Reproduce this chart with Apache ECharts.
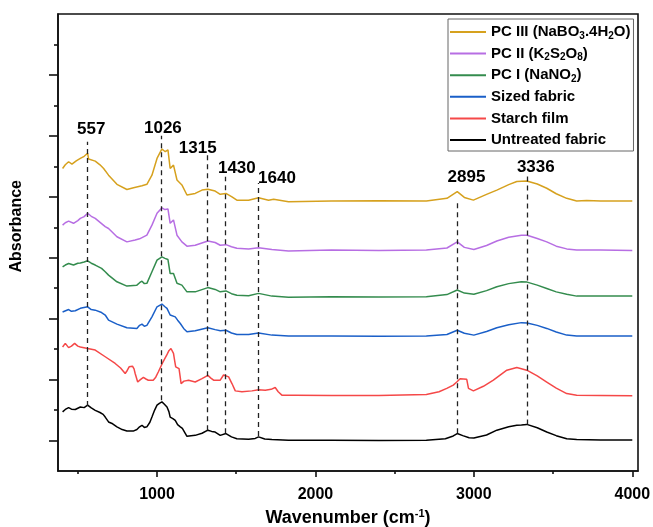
<!DOCTYPE html>
<html>
<head>
<meta charset="utf-8">
<script src="https://cdn.jsdelivr.net/npm/echarts@6/dist/echarts.min.js"></script>
<style>
    body { margin: 0; background: #ffffff; }
    #chart { width: 653px; height: 527px; }
</style>
</head>
<body>
<div id="chart"></div>
<script>
    // FTIR spectra, [wavenumber, absorbance offset]
    var untreated = [[404,1.94],[421,2.02],[442,2.08],[460,2.03],[484,2.02],[516,2.10],[540,2.08],[562,2.16],[585,2.07],[610,1.99],[640,1.92],[660,1.86],[673,1.77],[694,1.61],[720,1.55],[747,1.45],[780,1.36],[810,1.31],[850,1.31],[873,1.36],[890,1.45],[905,1.50],[920,1.43],[936,1.45],[955,1.60],[968,1.77],[985,2.00],[1000,2.16],[1015,2.22],[1031,2.27],[1045,2.20],[1063,2.10],[1075,1.95],[1083,1.77],[1100,1.72],[1115,1.66],[1130,1.52],[1147,1.45],[1160,1.40],[1168,1.34],[1180,1.22],[1189,1.14],[1215,1.16],[1241,1.17],[1284,1.24],[1321,1.34],[1345,1.30],[1367,1.28],[1399,1.17],[1435,1.23],[1470,1.12],[1504,1.06],[1578,1.04],[1620,1.07],[1641,1.12],[1680,1.05],[1725,1.03],[1830,1.01],[2100,1.01],[2400,1.00],[2700,1.01],[2820,1.06],[2870,1.15],[2895,1.23],[2930,1.16],[2970,1.09],[3000,1.08],[3080,1.18],[3145,1.34],[3220,1.45],[3271,1.50],[3300,1.51],[3334,1.53],[3400,1.42],[3460,1.28],[3520,1.16],[3586,1.06],[3649,1.03],[3800,1.02],[4000,1.02]];
    var starch = [[404,4.07],[421,4.19],[442,4.05],[460,4.10],[480,4.19],[500,4.10],[516,4.07],[562,4.02],[610,3.97],[673,3.75],[736,3.53],[770,3.38],[799,3.20],[812,3.30],[824,3.42],[845,3.44],[855,3.35],[862,3.20],[878,2.92],[895,3.00],[914,3.07],[930,3.02],[945,2.98],[976,2.98],[992,3.08],[1008,3.25],[1033,3.53],[1061,3.80],[1075,3.95],[1088,4.02],[1096,3.98],[1104,3.86],[1112,3.60],[1118,3.42],[1139,3.36],[1146,3.10],[1152,2.87],[1170,2.95],[1199,2.98],[1241,2.92],[1284,3.03],[1321,3.14],[1340,3.05],[1357,2.98],[1399,2.98],[1420,3.15],[1431,3.20],[1452,3.09],[1473,2.87],[1494,2.63],[1536,2.60],[1599,2.63],[1641,2.67],[1683,2.65],[1720,2.68],[1746,2.74],[1765,2.60],[1788,2.49],[1872,2.49],[2100,2.48],[2400,2.48],[2700,2.51],[2780,2.60],[2829,2.71],[2870,2.82],[2892,2.92],[2913,3.03],[2955,3.01],[2966,2.71],[2997,2.63],[3060,2.78],[3123,2.98],[3208,3.31],[3271,3.40],[3334,3.31],[3400,3.12],[3460,2.92],[3520,2.72],[3586,2.54],[3649,2.49],[3800,2.48],[4000,2.47]];
    var sized = [[404,5.22],[442,5.30],[460,5.24],[484,5.26],[516,5.34],[562,5.39],[585,5.30],[610,5.28],[650,5.20],[673,5.12],[694,4.95],[747,4.82],[810,4.70],[873,4.68],[890,4.78],[905,4.82],[920,4.75],[936,4.78],[968,5.06],[1000,5.39],[1031,5.48],[1048,5.40],[1063,5.34],[1083,5.12],[1115,5.06],[1130,4.95],[1147,4.84],[1168,4.68],[1189,4.57],[1241,4.60],[1321,4.70],[1367,4.64],[1399,4.60],[1435,4.62],[1470,4.53],[1504,4.48],[1578,4.48],[1641,4.53],[1725,4.46],[1830,4.43],[2100,4.43],[2400,4.42],[2700,4.43],[2830,4.48],[2895,4.62],[2940,4.52],[3000,4.46],[3080,4.58],[3145,4.70],[3220,4.80],[3300,4.87],[3336,4.86],[3400,4.78],[3460,4.68],[3520,4.56],[3586,4.46],[3649,4.43],[3800,4.43],[4000,4.43]];
    var pc1 = [[404,6.70],[421,6.76],[442,6.81],[473,6.76],[500,6.82],[516,6.83],[540,6.86],[562,6.90],[585,6.82],[610,6.76],[650,6.65],[673,6.54],[694,6.43],[747,6.21],[810,6.07],[873,6.10],[890,6.18],[905,6.23],[920,6.15],[936,6.16],[968,6.54],[1000,6.92],[1031,7.03],[1050,6.98],[1069,6.94],[1083,6.48],[1104,6.48],[1126,6.16],[1157,6.10],[1189,5.88],[1241,5.88],[1321,6.02],[1367,5.96],[1399,5.88],[1435,5.91],[1470,5.82],[1504,5.77],[1578,5.75],[1641,5.83],[1725,5.74],[1830,5.70],[2100,5.72],[2400,5.71],[2700,5.72],[2830,5.79],[2895,5.94],[2940,5.84],[3000,5.80],[3080,5.92],[3145,6.05],[3220,6.15],[3300,6.21],[3336,6.20],[3400,6.10],[3460,5.99],[3520,5.88],[3586,5.80],[3649,5.74],[3800,5.74],[4000,5.74]];
    var pc2 = [[404,8.07],[421,8.15],[442,8.20],[473,8.13],[500,8.22],[516,8.29],[540,8.35],[562,8.46],[585,8.36],[610,8.29],[650,8.12],[673,8.02],[694,7.96],[747,7.69],[810,7.52],[862,7.58],[890,7.62],[936,7.74],[968,8.07],[1000,8.46],[1031,8.64],[1050,8.58],[1069,8.60],[1083,8.13],[1104,8.24],[1126,7.74],[1157,7.52],[1189,7.38],[1241,7.41],[1321,7.55],[1367,7.50],[1399,7.41],[1435,7.43],[1470,7.36],[1504,7.31],[1578,7.29],[1641,7.33],[1725,7.27],[1830,7.22],[2100,7.25],[2400,7.24],[2700,7.25],[2830,7.32],[2895,7.52],[2940,7.34],[3000,7.27],[3080,7.40],[3145,7.55],[3220,7.67],[3300,7.74],[3336,7.74],[3400,7.63],[3460,7.52],[3520,7.38],[3586,7.29],[3649,7.25],[3800,7.25],[4000,7.24]];
    var pc3 = [[404,9.93],[421,10.05],[442,10.15],[463,10.07],[490,10.18],[516,10.26],[540,10.33],[562,10.43],[568,10.24],[610,10.17],[640,10.05],[663,9.93],[694,9.71],[747,9.41],[810,9.24],[852,9.30],[905,9.36],[936,9.41],[968,9.71],[1000,10.26],[1031,10.57],[1052,10.48],[1069,10.54],[1083,9.93],[1104,10.04],[1126,9.55],[1157,9.39],[1189,9.06],[1241,9.11],[1284,9.22],[1321,9.25],[1367,9.19],[1399,9.08],[1435,9.11],[1473,9.00],[1504,8.89],[1578,8.89],[1641,8.97],[1704,8.89],[1736,8.92],[1830,8.84],[2100,8.86],[2400,8.87],[2700,8.86],[2830,8.95],[2895,9.17],[2940,8.98],[2997,8.89],[3080,9.08],[3145,9.22],[3220,9.40],[3271,9.50],[3334,9.52],[3400,9.42],[3460,9.28],[3520,9.10],[3586,8.95],[3649,8.86],[3712,8.88],[3800,8.86],[4000,8.86]];

    // assigned bands: dashed guide from bottom curve up, label above
    var peakWn = [557, 1026, 1315, 1430, 1640, 2895, 3336];
    var peakLineBottom = [2.13, 2.32, 1.34, 1.24, 1.15, 1.24, 1.53];
    var peakLineTop = [10.81, 11.0, 10.37, 9.66, 9.45, 8.89, 9.78];
    var peakLabelX = [585, 1037, 1257, 1504, 1757, 2953, 3391];
    var peakLabelY = [11.2, 11.26, 10.58, 9.95, 9.62, 9.65, 9.98];

    var xMajorTicks = [1000, 2000, 3000, 4000];
    var xMinorTicks = [500, 1500, 2500, 3500];
    var yMajorTicks = [1, 3, 5, 7, 9, 11, 13];
    var yMinorTicks = [2, 4, 6, 8, 10, 12, 14];

    var names = ['PC III (NaBO3.4H2O)', 'PC II (K2S2O8)', 'PC I (NaNO2)', 'Sized fabric', 'Starch film', 'Untreated fabric'];
    var legendText = {
        'PC III (NaBO3.4H2O)': 'PC III (NaBO{sub|3}.4H{sub|2}O)',
        'PC II (K2S2O8)': 'PC II (K{sub|2}S{sub|2}O{sub|8})',
        'PC I (NaNO2)': 'PC I (NaNO{sub|2})'
    };
    var colors = ['#D6A11E', '#B76EE3', '#348C4E', '#1A5FC8', '#F54848', '#000000'];
    var dataSets = [pc3, pc2, pc1, sized, starch, untreated];

    var FONT = '"Liberation Sans", Arial, sans-serif';

    var guideLines = [];
    for (var i = 0; i < peakWn.length; i++) {
        guideLines.push([{coord: [peakWn[i], peakLineBottom[i]]}, {coord: [peakWn[i], peakLineTop[i]]}]);
    }
    var peakLabels = [];
    for (var j = 0; j < peakWn.length; j++) {
        peakLabels.push([peakLabelX[j], peakLabelY[j], String(peakWn[j])]);
    }

    var series = [];
    for (var k = 0; k < names.length; k++) {
        series.push({
            name: names[k],
            type: 'line',
            data: dataSets[k],
            symbol: 'none',
            color: colors[k],
            lineStyle: {width: 1.5, color: colors[k]},
            z: 3
        });
    }
    series[5].markLine = {
        silent: true,
        symbol: ['none', 'none'],
        label: {show: false},
        lineStyle: {color: '#222', width: 1.3, type: [5, 4]},
        data: guideLines
    };
    series.push({
        name: 'peaks',
        type: 'scatter',
        data: peakLabels,
        symbolSize: 0,
        itemStyle: {color: '#000', opacity: 1},
        label: {
            show: true,
            position: 'inside',
            formatter: function (p) { return p.value[2]; },
            color: '#000',
            textBorderWidth: 0,
            fontFamily: FONT,
            fontWeight: 'bold',
            fontSize: 17
        }
    });

    var axisBase = {
        type: 'value',
        min: 375,
        max: 4036,
        splitLine: {show: false}
    };

    var myChart = echarts.init(document.getElementById('chart'));
    myChart.setOption({
        animation: false,
        backgroundColor: '#ffffff',
        grid: {
            left: 58, right: 15, top: 14, bottom: 56,
            outerBoundsMode: 'none',
            show: true, borderColor: '#111', borderWidth: 1.6
        },
        legend: {
            data: names,
            orient: 'vertical',
            left: 448,
            top: 19,
            padding: [4, 3, 2, 2],
            icon: 'rect',
            itemWidth: 36,
            itemHeight: 2,
            itemGap: 3.6,
            borderColor: '#666',
            borderWidth: 1,
            backgroundColor: '#fff',
            formatter: function (n) { return legendText[n] || n; },
            textStyle: {
                fontFamily: FONT, fontWeight: 'bold', fontSize: 15, color: '#000', lineHeight: 18,
                rich: {
                    sub: {fontFamily: FONT, fontWeight: 'bold', fontSize: 10, lineHeight: 8, verticalAlign: 'bottom', color: '#000'}
                }
            }
        },
        xAxis: [
            Object.assign({}, axisBase, {
                position: 'bottom',
                axisLine: {lineStyle: {color: '#111', width: 1.6}},
                axisTick: {show: true, customValues: xMajorTicks, length: 6, lineStyle: {color: '#111', width: 1.6}},
                axisLabel: {
                    customValues: xMajorTicks, margin: 16, color: '#000', fontFamily: FONT, fontWeight: 'bold', fontSize: 16,
                    formatter: function (v) { return String(v); }
                },
                name: 'Wavenumber (cm{sup|-1})',
                nameLocation: 'middle',
                nameGap: 37,
                nameTextStyle: {
                    fontFamily: FONT, fontWeight: 'bold', fontSize: 18, color: '#000', lineHeight: 20,
                    rich: {sup: {fontFamily: FONT, fontWeight: 'bold', fontSize: 11, lineHeight: 10, verticalAlign: 'top', color: '#000'}}
                }
            }),
            Object.assign({}, axisBase, {
                position: 'bottom',
                axisLine: {show: false},
                axisTick: {show: true, customValues: xMinorTicks, length: 3, lineStyle: {color: '#111', width: 1.6}},
                axisLabel: {show: false}
            })
        ],
        yAxis: [
            {
                type: 'value', min: 0, max: 15, position: 'left',
                splitLine: {show: false},
                axisLine: {show: true, lineStyle: {color: '#111', width: 1.6}},
                axisTick: {show: true, customValues: yMajorTicks, length: 9, lineStyle: {color: '#111', width: 1.6}},
                axisLabel: {show: false}
            },
            {
                type: 'value', min: 0, max: 15, position: 'left',
                splitLine: {show: false},
                axisLine: {show: false},
                axisTick: {show: true, customValues: yMinorTicks, length: 4, lineStyle: {color: '#111', width: 1.6}},
                axisLabel: {show: false}
            }
        ],
        graphic: [{
            type: 'text',
            left: 9,
            top: 180,
            rotation: Math.PI / 2,
            style: {text: 'Absorbance', fontFamily: FONT, fontWeight: 'bold', fontSize: 16, fill: '#000'}
        }],
        series: series
    });
</script>
</body>
</html>
